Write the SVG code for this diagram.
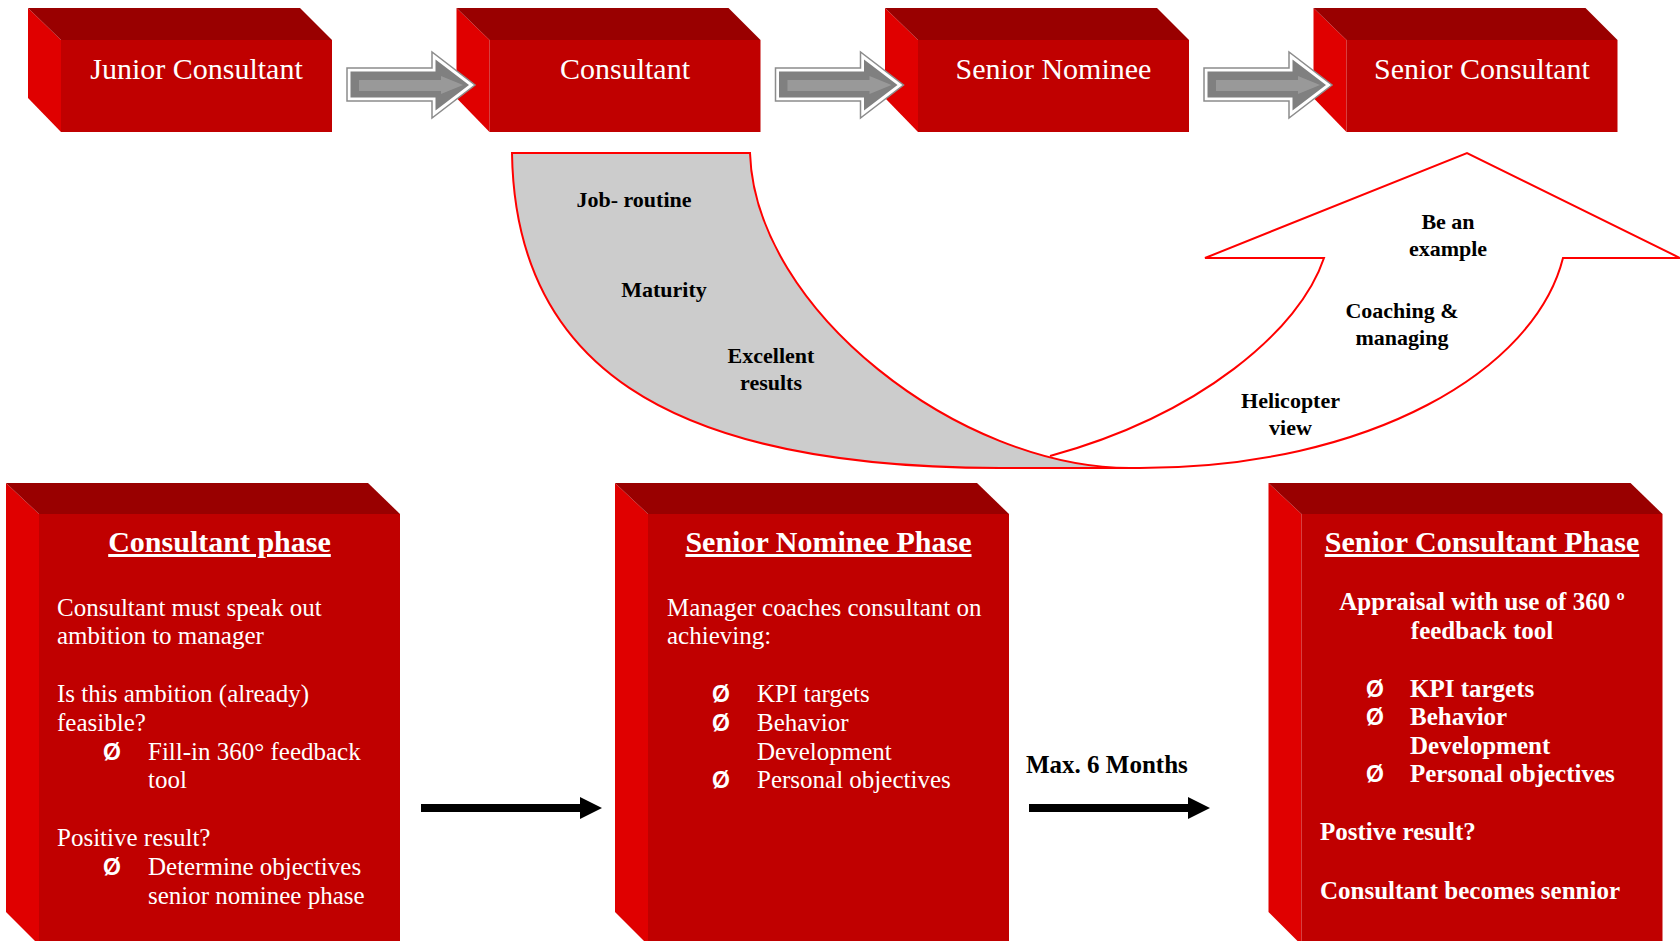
<svg xmlns="http://www.w3.org/2000/svg" xmlns:xlink="http://www.w3.org/1999/xlink" width="1680" height="941" viewBox="0 0 1680 941">
<style>
.topf{fill:#990000}
.side{fill:#E00000}
.front{fill:#C00000}
.bt{font-family:"Liberation Serif","Times New Roman",serif;font-size:30px;fill:#ffffff;text-anchor:middle}
.hd{font-family:"Liberation Serif","Times New Roman",serif;font-size:30px;font-weight:bold;fill:#ffffff;text-anchor:middle;text-decoration:underline}
.tx{font-family:"Liberation Serif","Times New Roman",serif;font-size:25px;fill:#ffffff}
.txb{font-family:"Liberation Serif","Times New Roman",serif;font-size:25px;font-weight:bold;fill:#ffffff}
.bul{font-family:"Liberation Sans",Arial,sans-serif;font-size:23px;font-weight:bold;fill:#ffffff}
.lbl{font-family:"Liberation Serif","Times New Roman",serif;font-size:22px;font-weight:bold;fill:#000000;text-anchor:middle}
.blk{font-family:"Liberation Serif","Times New Roman",serif;font-size:25px;font-weight:bold;fill:#000000}
.redline{fill:none;stroke:#FF0000;stroke-width:2;stroke-linejoin:miter}
</style>
<defs>
<g id="boxS">
<polygon class="side" points="28,8 61,40 61,132 28,98"/>
<polygon class="topf" points="28,8 300,8 332,40 61,40"/>
<rect class="front" x="61" y="40" width="271" height="92"/>
</g>
<g id="boxL">
<polygon class="side" points="6,483 39,514 39,945 6,912"/>
<polygon class="topf" points="6,483 368,483 400,514 39,514"/>
<rect class="front" x="39" y="514" width="361" height="431"/>
</g>
<g id="garrow">
<polygon points="347,68 432,68 432,52 475,85 432,118 432,101 347,101" fill="#ffffff" stroke="#8c8c8c" stroke-width="1.5"/>
<polygon points="350.5,71.5 435.5,71.5 435.5,59.5 469,85 435.5,110.5 435.5,97.5 350.5,97.5" fill="#808080"/>
<polygon points="359,80 441,80 441,76 463,85 441,94 441,91 359,91" fill="#999999"/>
</g>
<polygon id="barrow" points="421,804 580,804 580,797 602,808 580,819 580,812 421,812" fill="#000000"/>
</defs>

<g id="junior-consultant">
<use xlink:href="#boxS" href="#boxS"/>
<text class="bt" x="196.5" y="79">Junior Consultant</text>
</g>
<g id="consultant" transform="translate(428.5,0)">
<use xlink:href="#boxS" href="#boxS"/>
<text class="bt" x="196.5" y="79">Consultant</text>
</g>
<g id="senior-nominee" transform="translate(857,0)">
<use xlink:href="#boxS" href="#boxS"/>
<text class="bt" x="196.5" y="79">Senior Nominee</text>
</g>
<g id="senior-consultant" transform="translate(1285.5,0)">
<use xlink:href="#boxS" href="#boxS"/>
<text class="bt" x="196.5" y="79">Senior Consultant</text>
</g>

<g id="curved-arrow">
<path d="M1050,456 C1200,415 1300,330 1324,258 L1205,258 L1467,153 L1680,258 L1563,258 C1535,370 1370,468 1140,468 L1000,468 Z" fill="#ffffff"/>
<path d="M512,153 L750,153 C755,310 960,468 1130,468 L1000,468 C660,468 515,360 512,153 Z" fill="#CCCCCC" stroke="#FF0000" stroke-width="2"/>
<path class="redline" d="M1050,456 C1200,415 1300,330 1324,258 L1205,258 L1467,153 L1680,258 L1563,258 C1535,370 1370,468 1140,468 L1000,468"/>
<text class="lbl" x="634" y="206.5">Job- routine</text>
<text class="lbl" x="664" y="297">Maturity</text>
<text class="lbl" x="771" y="363">Excellent</text>
<text class="lbl" x="771" y="390">results</text>
<text class="lbl" x="1448" y="228.5">Be an</text>
<text class="lbl" x="1448" y="255.5">example</text>
<text class="lbl" x="1402" y="318">Coaching &amp;</text>
<text class="lbl" x="1402" y="344.5">managing</text>
<text class="lbl" x="1290.5" y="408">Helicopter</text>
<text class="lbl" x="1290.5" y="435">view</text>
</g>

<g id="consultant-phase">
<use xlink:href="#boxL" href="#boxL"/>
<text class="hd" x="219.5" y="552">Consultant phase</text>
<text class="tx" x="57" y="615.5">Consultant must speak out</text>
<text class="tx" x="57" y="644.3">ambition to manager</text>
<text class="tx" x="57" y="702">Is this ambition (already)</text>
<text class="tx" x="57" y="730.8">feasible?</text>
<text class="bul" x="103" y="759.6">Ø</text>
<text class="tx" x="148" y="759.6">Fill-in 360° feedback</text>
<text class="tx" x="148" y="788.4">tool</text>
<text class="tx" x="57" y="846">Positive result?</text>
<text class="bul" x="103" y="874.8">Ø</text>
<text class="tx" x="148" y="874.8">Determine objectives</text>
<text class="tx" x="148" y="903.6">senior nominee phase</text>
</g>

<g id="senior-nominee-phase" transform="translate(609,0)">
<use xlink:href="#boxL" href="#boxL"/>
<text class="hd" x="219.5" y="552">Senior Nominee Phase</text>
<text class="tx" x="58" y="615.5">Manager coaches consultant on</text>
<text class="tx" x="58" y="644.3">achieving:</text>
<text class="bul" x="103" y="702">Ø</text>
<text class="tx" x="148" y="702">KPI targets</text>
<text class="bul" x="103" y="730.8">Ø</text>
<text class="tx" x="148" y="730.8">Behavior</text>
<text class="tx" x="148" y="759.6">Development</text>
<text class="bul" x="103" y="788.4">Ø</text>
<text class="tx" x="148" y="788.4">Personal objectives</text>
</g>

<g id="senior-consultant-phase" transform="translate(1262.5,0)">
<use xlink:href="#boxL" href="#boxL"/>
<text class="hd" x="219.5" y="552">Senior Consultant Phase</text>
<text class="txb" x="219.5" y="610" text-anchor="middle">Appraisal with use of 360 º</text>
<text class="txb" x="219.5" y="639" text-anchor="middle">feedback tool</text>
<text class="bul" x="103.5" y="696.7">Ø</text>
<text class="txb" x="147.5" y="696.7">KPI targets</text>
<text class="bul" x="103.5" y="725">Ø</text>
<text class="txb" x="147.5" y="725">Behavior</text>
<text class="txb" x="147.5" y="753.5">Development</text>
<text class="bul" x="103.5" y="782">Ø</text>
<text class="txb" x="147.5" y="782">Personal objectives</text>
<text class="txb" x="57.5" y="840">Postive result?</text>
<text class="txb" x="57.5" y="899">Consultant becomes sennior</text>
</g>

<g id="connectors">
<use xlink:href="#garrow" href="#garrow"/>
<use xlink:href="#garrow" href="#garrow" transform="translate(428.5,0)"/>
<use xlink:href="#garrow" href="#garrow" transform="translate(857,0)"/>
<use xlink:href="#barrow" href="#barrow"/>
<use xlink:href="#barrow" href="#barrow" transform="translate(608,0)"/>
<text class="blk" x="1026" y="773">Max. 6 Months</text>
</g>
</svg>
